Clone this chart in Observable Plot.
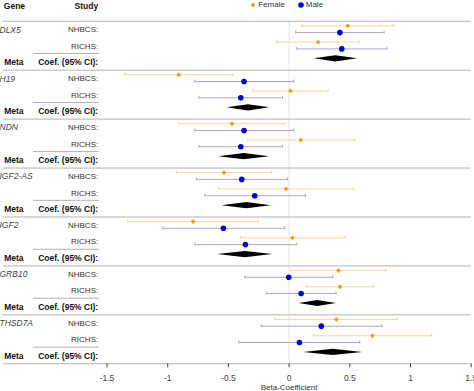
<!DOCTYPE html>
<html><head><meta charset="utf-8">
<script src="https://cdn.jsdelivr.net/npm/d3@7"></script>
<script src="https://cdn.jsdelivr.net/npm/@observablehq/plot@0.6"></script>
<style>
body{margin:0;background:#fff;}
#wrap{position:relative;width:474px;height:391px;overflow:hidden;font-family:"Liberation Sans",Arial,sans-serif;}
#legend{position:absolute;left:250px;top:0;height:9.4px;display:flex;align-items:center;font-size:8px;color:#333;z-index:2;}
#legend svg{display:block;}
</style></head><body><div id="wrap"><div id="legend"></div><div id="chart"></div></div>
<script>
// ---- data ----
const genes = ["DLX5", "H19", "NDN", "IGF2-AS", "IGF2", "GRB10", "THSD7A"];
const studies = ["NHBCS", "RICHS"];
const sexes = ["Female", "Male"];
// order: gene0-NHBCS, gene0-RICHS, gene1-NHBCS, ...
const femaleEst = [0.484, 0.239, -0.909, 0.011, -0.470, 0.096, -0.536, -0.025, -0.791, 0.027, 0.407, 0.420, 0.389, 0.687];
const femaleLo  = [0.104, -0.102, -1.354, -0.299, -0.907, -0.341, -0.929, -0.580, -1.330, -0.401, 0.014, 0.140, -0.120, 0.197];
const femaleHi  = [0.863, 0.582, -0.462, 0.321, -0.033, 0.541, -0.143, 0.530, -0.253, 0.462, 0.799, 0.698, 0.892, 1.173];
const maleEst   = [0.418, 0.434, -0.371, -0.398, -0.371, -0.398, -0.390, -0.283, -0.541, -0.360, -0.003, 0.099, 0.265, 0.085];
const maleLo    = [0.055, 0.063, -0.777, -0.742, -0.777, -0.742, -0.764, -0.695, -1.041, -0.775, -0.365, -0.184, -0.230, -0.415];
const maleHi    = [0.783, 0.805, 0.038, -0.055, 0.038, -0.055, -0.014, 0.135, -0.036, 0.063, 0.360, 0.387, 0.766, 0.582];
const metaEst   = [0.385, -0.335, -0.371, -0.349, -0.360, 0.236, 0.362];
const metaLo    = [0.206, -0.511, -0.580, -0.552, -0.588, 0.082, 0.120];
const metaHi    = [0.563, -0.159, -0.159, -0.146, -0.135, 0.390, 0.605];
const xTicks = [-1.5, -1, -0.5, 0, 0.5, 1, 1.5];
const xLabel = "Beta-Coefficient";
const headerLabels = ["Gene", "Study"];
const metaLabels = ["Meta", "Coef. (95% CI):"];

// ---- styles ----
const colors = {Female: "#E8A317", Male: "#0000DD"};
const ciColors = {Female: "#F3D898", Male: "#A7A7CF"};
const offsets = {Female: -0.25, Male: 0.165};
const capH = 0.095, diamH = 0.19, metaOff = -0.225;

// ---- build tables ----
const est = [];
genes.forEach((gene, g) => studies.forEach((study, s) => {
  const i = g * 2 + s;
  const vals = {Female: [femaleEst[i], femaleLo[i], femaleHi[i]], Male: [maleEst[i], maleLo[i], maleHi[i]]};
  sexes.forEach(sex => {
    const y = 3 * g + s + offsets[sex];
    est.push({gene, study, sex, y, est: vals[sex][0], lo: vals[sex][1], hi: vals[sex][2]});
  });
}));
const caps = est.flatMap(d => [{...d, x: d.lo}, {...d, x: d.hi}]);
const diam = genes.flatMap((gene, g) => {
  const c = 3 * g + 2 + metaOff;
  return [
    {gene, x: metaLo[g], y1: c, y2: c},
    {gene, x: metaEst[g], y1: c - diamH, y2: c + diamH},
    {gene, x: metaHi[g], y1: c, y2: c}
  ];
});
const tableRows = genes.flatMap((gene, g) => [
  {row: 3 * g, text: studies[0] + ":"},
  {row: 3 * g + 1, text: studies[1] + ":"}
]);
const geneRows = genes.map((gene, g) => ({row: 3 * g, text: gene}));
const metaRows = genes.map((gene, g) => ({row: 3 * g + 2}));
const sepRows = d3.range(genes.length + 1).map(k => 3 * k - 0.53);
const shortRows = genes.map((gene, g) => 3 * g + 1.45);
const headerRow = -1.44;

const fam = "Liberation Sans, Arial, sans-serif";
const plot = Plot.plot({
  width: 474, height: 391,
  marginLeft: 106.5, marginRight: 3.3, marginTop: 0, marginBottom: 27.7,
  x: {domain: [-1.5, 1.5]},
  y: {domain: [-1.803, 20.472], reverse: true, axis: null},
  style: {fontFamily: fam, fontSize: "8px", background: "white", overflow: "visible"},
  marks: [
    Plot.ruleX([0], {stroke: "#e4e4e4", strokeWidth: 1, insetTop: 20.7}),
    Plot.ruleY(sepRows, {y: d => d, stroke: "#b3b3b3", strokeWidth: 1, insetLeft: -103.5}),
    Plot.ruleY(shortRows, {y: d => d, stroke: "#b3b3b3", strokeWidth: 1, insetLeft: -73.5, insetRight: 371.7}),
    Plot.link(est, {x1: "lo", x2: "hi", y1: "y", y2: "y", stroke: d => ciColors[d.sex], strokeWidth: 1}),
    Plot.ruleX(caps, {x: "x", y1: d => d.y - capH, y2: d => d.y + capH, stroke: d => ciColors[d.sex], strokeWidth: 1}),
    Plot.areaY(diam, {x: "x", y1: "y1", y2: "y2", z: "gene", fill: "black"}),
    Plot.dot(est.filter(d => d.sex === "Female"), {x: "est", y: "y", symbol: "square", rotate: 45, r: 1.95, fill: colors.Female, stroke: "none"}),
    Plot.dot(est.filter(d => d.sex === "Male"), {x: "est", y: "y", symbol: "circle", r: 2.8, fill: colors.Male, stroke: "none"}),
    // left table
    Plot.text([headerLabels[0]], {frameAnchor: "left", y: () => headerRow, dx: -103.2, textAnchor: "start", fontWeight: "bold", fontSize: 8.5, fill: "#111"}),
    Plot.text([headerLabels[1]], {frameAnchor: "left", y: () => headerRow, dx: -8.8, textAnchor: "end", fontWeight: "bold", fontSize: 8.5, fill: "#111"}),
    Plot.text(geneRows, {frameAnchor: "left", y: "row", text: "text", dx: -107.5, textAnchor: "start", fontStyle: "italic", fontSize: 8.5, fill: "#444"}),
    Plot.text(tableRows, {frameAnchor: "left", y: "row", text: "text", dx: -8.8, textAnchor: "end", fontSize: 8, fill: "#333"}),
    Plot.text(metaRows, {frameAnchor: "left", y: "row", text: () => metaLabels[0], dx: -102.8, textAnchor: "start", fontWeight: "bold", fontSize: 8.5, fill: "#111"}),
    Plot.text(metaRows, {frameAnchor: "left", y: "row", text: () => metaLabels[1], dx: -8.8, textAnchor: "end", fontWeight: "bold", fontSize: 8.5, fill: "#111"}),
    // axis
    Plot.axisX(xTicks, {tickSize: 4, tickPadding: 7, tickFormat: d => String(d), fontSize: 8.5, color: "#444", label: null}),
    Plot.text([xLabel], {frameAnchor: "bottom", dy: 23.7, lineAnchor: "middle", fontSize: 8, fill: "#333"})
  ]
});
document.getElementById("chart").appendChild(plot);

// legend
const lg = document.getElementById("legend");
sexes.forEach((sex, i) => {
  const svg = d3.create("svg").attr("width", 6).attr("height", 6).style("margin-left", i === 0 ? "0px" : "12.7px");
  if (sex === "Female") svg.append("path").attr("d", "M3,0.6L5.4,3L3,5.4L0.6,3Z").attr("fill", colors[sex]);
  else svg.append("circle").attr("cx", 3).attr("cy", 3).attr("r", 2.8).attr("fill", colors[sex]);
  lg.appendChild(svg.node());
  const sp = document.createElement("span");
  sp.textContent = sex;
  sp.style.marginLeft = "2.2px";
  lg.appendChild(sp);
});
</script></body></html>
